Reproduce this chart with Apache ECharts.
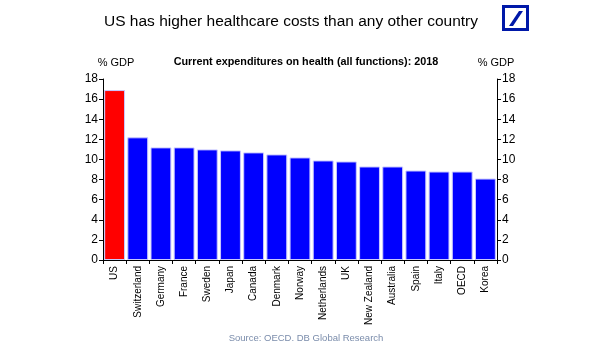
<!DOCTYPE html>
<html>
<head>
<meta charset="utf-8">
<script src="https://cdn.jsdelivr.net/npm/echarts@6/dist/echarts.min.js"></script>
<style>html,body{margin:0;padding:0;background:#fff;}#c{width:605px;height:341px;}</style>
</head>
<body>
<div id="c"></div>
<script>
const categories = ['US','Switzerland','Germany','France','Sweden','Japan','Canada','Denmark','Norway','Netherlands','UK','New Zealand','Australia','Spain','Italy','OECD','Korea'];
const values = [16.9,12.2,11.2,11.2,11.0,10.9,10.7,10.5,10.2,9.9,9.8,9.3,9.3,8.9,8.8,8.8,8.1];
const yTicks = [0,2,4,6,8,10,12,14,16,18];

const font = 'Liberation Sans, Arial, sans-serif';
const chart = echarts.init(document.getElementById('c'), null, {renderer: 'canvas'});
const yAxisBase = (pos) => ({
  type: 'value', position: pos, min: 0, max: 18, interval: 2,
  axisLine: {show: true, lineStyle: {color: '#000', width: 1}},
  axisTick: {show: true, inside: false, length: 4, lineStyle: {color: '#000'}},
  axisLabel: {color: '#000', fontSize: 12, fontFamily: font, margin: 5,
    formatter: v => yTicks.includes(v) ? String(v) : ''},
  splitLine: {show: false}
});
chart.setOption({
  animation: false,
  textStyle: {fontFamily: font},
  grid: {left: 103, right: 108, top: 79, bottom: 81, containLabel: false},
  title: [
    {text: 'US has higher healthcare costs than any other country', left: 286, top: 9, textAlign: 'center',
     textStyle: {fontSize: 15.5, fontWeight: 'normal', color: '#000', fontFamily: font}},
    {text: 'Current expenditures on health (all functions): 2018', left: 301, top: 52, textAlign: 'center',
     textStyle: {fontSize: 10.8, fontWeight: 'bold', color: '#000', fontFamily: font}},
    {text: '% GDP', left: 111, top: 52, textAlign: 'center',
     textStyle: {fontSize: 11, fontWeight: 'normal', color: '#000', fontFamily: font}},
    {text: '% GDP', left: 491, top: 52, textAlign: 'center',
     textStyle: {fontSize: 11, fontWeight: 'normal', color: '#000', fontFamily: font}},
    {text: 'Source: OECD, DB Global Research', left: 301, top: 328, textAlign: 'center',
     textStyle: {fontSize: 9.5, fontWeight: 'normal', color: '#7a8cab', fontFamily: font}}
  ],
  xAxis: {
    type: 'category', data: categories,
    axisLine: {lineStyle: {color: '#000'}},
    axisTick: {show: true, length: 4, alignWithLabel: false, lineStyle: {color: '#000'}},
    axisLabel: {rotate: 90, interval: 0, color: '#000', fontSize: 10, fontFamily: font, margin: 6}
  },
  yAxis: [yAxisBase('left'), yAxisBase('right')],
  series: [{
    type: 'bar', data: values.map((v, i) => ({value: v, itemStyle: {color: i === 0 ? '#ff0000' : '#0000ff'}})),
    barCategoryGap: '10%',
    itemStyle: {borderColor: '#c8c8ff', borderWidth: 1}
  }],
  graphic: [
    {type: 'rect', shape: {x: 503.5, y: 6.5, width: 24, height: 23}, style: {fill: '#fff', stroke: '#0018a8', lineWidth: 3}},
    {type: 'polygon', shape: {points: [[519, 11], [523, 11], [513, 26], [509, 26]]}, style: {fill: '#0018a8'}}
  ]
});
</script>
</body>
</html>
